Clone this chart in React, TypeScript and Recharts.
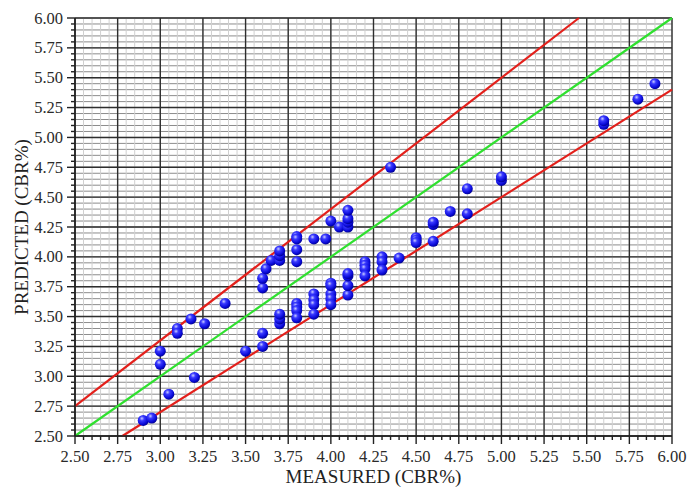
import React from "react";
import {
  CartesianGrid,
  ReferenceLine,
  Scatter,
  ScatterChart,
  XAxis,
  YAxis,
} from "recharts";

// measured vs predicted CBR values
const MEASURED = [
  2.9, 2.95, 3.0, 3.0, 3.05, 3.1, 3.1, 3.18, 3.2, 3.26, 3.38, 3.5,
  3.6, 3.6, 3.6, 3.6, 3.62, 3.65,
  3.7, 3.7, 3.7, 3.7, 3.7, 3.7,
  3.8, 3.8, 3.8, 3.8, 3.8, 3.8, 3.8, 3.8,
  3.9, 3.97, 3.9, 3.9, 3.9, 3.9,
  4.0, 4.0, 4.0, 4.0, 4.0, 4.0, 4.05,
  4.1, 4.1, 4.1, 4.1, 4.1, 4.1, 4.1, 4.1,
  4.2, 4.2, 4.2, 4.2, 4.3, 4.3, 4.3, 4.35, 4.4,
  4.5, 4.5, 4.5, 4.6, 4.6, 4.6, 4.7, 4.8, 4.8,
  5.0, 5.0, 5.6, 5.6, 5.8, 5.9,
];
const PREDICTED = [
  2.63, 2.65, 3.21, 3.1, 2.85, 3.4, 3.36, 3.48, 2.99, 3.44, 3.61, 3.21,
  3.25, 3.36, 3.74, 3.82, 3.9, 3.97,
  3.97, 4.01, 4.05, 3.44, 3.48, 3.52,
  4.17, 4.15, 4.06, 3.96, 3.61, 3.58, 3.55, 3.49,
  4.15, 4.15, 3.69, 3.64, 3.6, 3.52,
  4.3, 3.78, 3.69, 3.65, 3.6, 3.76, 4.25,
  4.25, 4.29, 4.32, 4.39, 3.68, 3.76, 3.84, 3.86,
  3.96, 3.93, 3.9, 3.84, 4.0, 3.96, 3.89, 4.75, 3.99,
  4.16, 4.14, 4.12, 4.13, 4.27, 4.29, 4.38, 4.36, 4.57,
  4.64, 4.67, 5.11, 5.14, 5.32, 5.45,
];

const TICK_LABELS = [
  "2.50", "2.75", "3.00", "3.25", "3.50", "3.75", "4.00", "4.25",
  "4.50", "4.75", "5.00", "5.25", "5.50", "5.75", "6.00",
];

// y = 1.1x, y = x, y = 0.9x bounds
const UPPER_LINE = [{ x: 2.5, y: 2.75 }, { x: 5.4545, y: 6.0 }];
const EQUAL_LINE = [{ x: 2.5, y: 2.5 }, { x: 6.0, y: 6.0 }];
const LOWER_LINE = [{ x: 2.7778, y: 2.5 }, { x: 6.0, y: 5.4 }];

const data = MEASURED.map((m, i) => ({ x: m, y: PREDICTED[i] }));

const majorTicks = TICK_LABELS.map((t) => parseFloat(t));
// four minor ticks between each major one
const allTicks: number[] = [];
majorTicks.forEach((v, i) => {
  allTicks.push(v);
  if (i < majorTicks.length - 1) {
    for (let k = 1; k < 5; k++) allTicks.push(Number((v + k * 0.05).toFixed(2)));
  }
});

const isMajor = (v: number) => Math.abs(v * 4 - Math.round(v * 4)) < 1e-6;

const FONT = "'Liberation Serif', 'Times New Roman', serif";

const YTick = (props: any) => {
  const { x, y, payload } = props;
  const v = payload.value as number;
  const major = isMajor(v);
  return (
    <g>
      <line x1={x - (major ? 8 : 4)} x2={x} y1={y} y2={y} stroke="#222" strokeWidth={1.4} />
      {major && (
        <text x={x - 12} y={y} dy={5.5} textAnchor="end" fill="#2a2a2a" fontSize={16.5} fontFamily={FONT}>
          {v.toFixed(2)}
        </text>
      )}
    </g>
  );
};

const XTick = (props: any) => {
  const { x, y, payload } = props;
  const v = payload.value as number;
  const major = isMajor(v);
  return (
    <g>
      <line x1={x} x2={x} y1={y} y2={y + (major ? 8 : 4)} stroke="#222" strokeWidth={1.4} />
      {major && (
        <text x={x} y={y} dy={26} textAnchor="middle" fill="#2a2a2a" fontSize={16.5} fontFamily={FONT}>
          {v.toFixed(2)}
        </text>
      )}
    </g>
  );
};

const Ball = (props: any) => {
  const { cx, cy } = props;
  if (cx == null || cy == null) return null;
  return <circle cx={cx} cy={cy} r={5.5} fill="url(#ballGrad)" />;
};

export default function App() {
  return (
    <div style={{ position: "absolute", left: 0, top: 0, width: 700, height: 489, background: "#fff" }}>
      <svg width={0} height={0} style={{ position: "absolute" }}>
        <defs>
          <radialGradient id="ballGrad" cx="38%" cy="32%" r="70%">
            <stop offset="0%" stopColor="#c8ccff" />
            <stop offset="30%" stopColor="#3a3aff" />
            <stop offset="75%" stopColor="#0a0ad8" />
            <stop offset="100%" stopColor="#000090" />
          </radialGradient>
        </defs>
      </svg>
      <ScatterChart width={700} height={489} margin={{ top: 18, right: 28, bottom: 0, left: 0 }}>
        <CartesianGrid vertical={false} stroke="#8c8c8c" strokeWidth={1} />
        <CartesianGrid horizontal={false} stroke="#d0d0d0" strokeWidth={1} />
        <XAxis
          type="number"
          dataKey="x"
          domain={[2.5, 6]}
          ticks={allTicks}
          interval={0}
          allowDataOverflow
          height={53}
          tickSize={0}
          tickMargin={0}
          tickLine={false}
          tick={<XTick />}
          axisLine={{ stroke: "#222", strokeWidth: 1.6 }}
          label={{
            value: "MEASURED (CBR%)",
            position: "insideBottom",
            offset: 6,
            fill: "#222",
            fontSize: 19,
            fontFamily: FONT,
          }}
        />
        <YAxis
          type="number"
          dataKey="y"
          domain={[2.5, 6]}
          ticks={allTicks}
          interval={0}
          allowDataOverflow
          width={75}
          tickSize={0}
          tickMargin={0}
          tickLine={false}
          tick={<YTick />}
          axisLine={{ stroke: "#222", strokeWidth: 1.6 }}
          label={{
            value: "PREDICTED (CBR%)",
            angle: -90,
            position: "insideLeft",
            offset: 21,
            fill: "#222",
            fontSize: 19,
            fontFamily: FONT,
            style: { textAnchor: "middle" },
          }}
        />
        {majorTicks.map((v) => (
          <ReferenceLine key={"h" + v} y={v} stroke="#2e2e2e" strokeWidth={1.4} />
        ))}
        {majorTicks.map((v) => (
          <ReferenceLine key={"v" + v} x={v} stroke="#2e2e2e" strokeWidth={1.4} />
        ))}
        <ReferenceLine segment={UPPER_LINE} stroke="#e3201b" strokeWidth={2.2} />
        <ReferenceLine segment={EQUAL_LINE} stroke="#2fe02f" strokeWidth={2.2} />
        <ReferenceLine segment={LOWER_LINE} stroke="#e3201b" strokeWidth={2.2} />
        <Scatter data={data} shape={<Ball />} isAnimationActive={false} />
      </ScatterChart>
    </div>
  );
}
